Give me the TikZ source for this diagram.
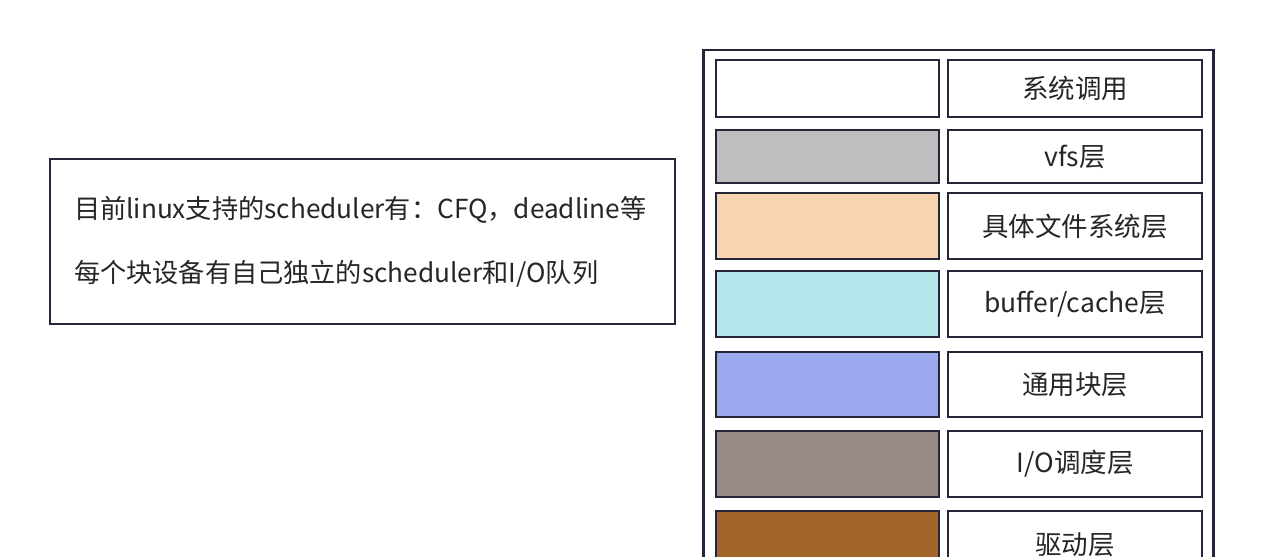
\documentclass[tikz,border=0pt]{standalone}
\usepackage{fontspec}
\setmainfont{Noto Sans CJK SC}
\usetikzlibrary{positioning}

\definecolor{framec}{HTML}{25253A}
\definecolor{vfsc}{HTML}{BEBEC1}
\definecolor{fsc}{HTML}{F8D4B1}
\definecolor{cachec}{HTML}{B3E7EC}
\definecolor{blkc}{HTML}{9CA9EF}
\definecolor{schedc}{HTML}{988B85}
\definecolor{drvc}{HTML}{A4652B}

\tikzset{
  box/.style={draw=framec, line width=2.2pt, rectangle, inner sep=0pt},
  label box/.style={box, fill=white, minimum width=253.8pt,
    font=\fontsize{26.5}{30}\selectfont, text=black!85},
  note/.style={box, fill=white, minimum width=625pt, minimum height=165pt,
    text width=577pt, align=left, inner xsep=23pt,
    font=\fontsize{26.2}{64}\selectfont, text=black!85}
}

\begin{document}
\begin{tikzpicture}[x=1pt, y=1pt]
    \useasboundingbox[fill=white] (0,0) rectangle (1264,-557);

    % note on the left
    \node[note] (info) at (362.5,-241.5)
      {目前linux支持的scheduler有：CFQ，deadline等\\每个块设备有自己独立的scheduler和I/O队列};

    % outer frame of the stack
    \draw[framec, line width=2.2pt] (703.5,-50) rectangle (1213.5,-620);

    % layers: name/top/bottom/colour/label
    \foreach \name/\top/\bot/\col/\txt in {
        sys/59/118/white/{系统调用},
        vfs/129/184/vfsc/{vfs层},
        fs/192/260/fsc/{具体文件系统层},
        cache/270/338/cachec/{buffer/cache层},
        blk/351/418/blkc/{通用块层},
        sched/430/498/schedc/{I/O调度层},
        drv/510/580/drvc/{驱动层}}
    {
      \node[box, fill=\col, minimum width=222.8pt,
            minimum height={(\bot-\top-2.2)*1pt}, anchor=north west]
        (\name) at (715,-\top) {};
      \node[label box, minimum height={(\bot-\top-2.2)*1pt},
            right=7pt of \name] (\name-l) {\txt};
    }
\end{tikzpicture}
\end{document}
